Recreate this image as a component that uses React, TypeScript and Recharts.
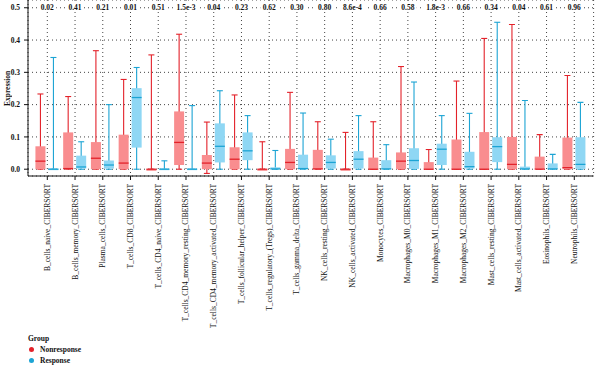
import { ComposedChart, Bar, Line, XAxis, YAxis, CartesianGrid, LabelList } from "recharts";

const categories = [
  "B_cells_naive_CIBERSORT",
  "B_cells_memory_CIBERSORT",
  "Plasma_cells_CIBERSORT",
  "T_cells_CD8_CIBERSORT",
  "T_cells_CD4_naive_CIBERSORT",
  "T_cells_CD4_memory_resting_CIBERSORT",
  "T_cells_CD4_memory_activated_CIBERSORT",
  "T_cells_follicular_helper_CIBERSORT",
  "T_cells_regulatory_(Tregs)_CIBERSORT",
  "T_cells_gamma_delta_CIBERSORT",
  "NK_cells_resting_CIBERSORT",
  "NK_cells_activated_CIBERSORT",
  "Monocytes_CIBERSORT",
  "Macrophages_M0_CIBERSORT",
  "Macrophages_M1_CIBERSORT",
  "Macrophages_M2_CIBERSORT",
  "Mast_cells_resting_CIBERSORT",
  "Mast_cells_activated_CIBERSORT",
  "Eosinophils_CIBERSORT",
  "Neutrophils_CIBERSORT",
];

const pValues = [
  "0.02", "0.41", "0.21", "0.01", "0.51", "1.5e-3", "0.04", "0.23", "0.62", "0.30",
  "0.80", "8.6e-4", "0.66", "0.58", "1.8e-3", "0.66", "0.34", "0.04", "0.61", "0.96",
];

// [min, q1, median, q3, max]
const nonresponse = [
  [0, 0, 0.025, 0.071, 0.233],
  [0, 0, 0.002, 0.114, 0.225],
  [0, 0, 0.034, 0.084, 0.367],
  [0, 0, 0.019, 0.107, 0.278],
  [0, 0, 0, 0, 0.354],
  [0, 0.013, 0.083, 0.179, 0.418],
  [-0.013, 0, 0.019, 0.044, 0.146],
  [0, 0, 0.031, 0.068, 0.23],
  [0, 0, 0, 0, 0.085],
  [0, 0, 0.021, 0.063, 0.238],
  [0, 0, 0.001, 0.06, 0.147],
  [0, 0, 0, 0, 0.114],
  [0, 0, 0, 0.036, 0.147],
  [0, 0, 0.025, 0.052, 0.318],
  [0, 0, 0, 0.022, 0.061],
  [0, 0, 0, 0.092, 0.273],
  [0, 0, 0, 0.115, 0.405],
  [0, 0, 0.015, 0.1, 0.448],
  [0, 0, 0, 0.039, 0.107],
  [0, 0, 0.005, 0.098, 0.29],
];

const response = [
  [0, 0, 0, 0.002, 0.346],
  [0, 0.002, 0.007, 0.042, 0.085],
  [0, 0.002, 0.013, 0.027, 0.2],
  [0, 0.067, 0.222, 0.251, 0.315],
  [0, 0, 0, 0.002, 0.026],
  [0, 0, 0, 0.002, 0.197],
  [0, 0.021, 0.071, 0.142, 0.243],
  [0, 0.028, 0.057, 0.114, 0.166],
  [0, 0, 0.001, 0.006, 0.058],
  [0, 0, 0.002, 0.045, 0.174],
  [0, 0.002, 0.021, 0.043, 0.093],
  [0, 0.002, 0.031, 0.056, 0.166],
  [0, 0, 0.001, 0.028, 0.076],
  [0, 0.001, 0.027, 0.065, 0.27],
  [0, 0.013, 0.062, 0.079, 0.166],
  [0, 0.002, 0.008, 0.054, 0.173],
  [0, 0.022, 0.07, 0.099, 0.455],
  [0, 0, 0.001, 0.008, 0.213],
  [0, 0, 0.001, 0.018, 0.046],
  [0, 0.001, 0.015, 0.099, 0.207],
];

const yTicks = [0, 0.1, 0.2, 0.3, 0.4, 0.5];

const RED = "#e3222a";
const RED_FILL = "#f98d8f";
const BLUE = "#1ca4d4";
const BLUE_FILL = "#8fd7f4";
const FONT = "'Liberation Serif', 'Times New Roman', serif";

const data = categories.map((name, i) => ({
  idx: i,
  name,
  p: pValues[i],
  non: nonresponse[i],
  res: response[i],
  nonRange: [nonresponse[i][0], nonresponse[i][4]],
  resRange: [response[i][0], response[i][4]],
}));
const xTicks = categories.map((_, i) => i);

function makeBox(key: "non" | "res", fill: string, stroke: string) {
  return (props: any) => {
    const { x, y, width, height, payload } = props;
    const [mn, q1, md, q3, mx] = payload[key];
    const span = mx - mn || 1;
    const py = (v: number) => y + (height * (mx - v)) / span;
    const cx = x + width / 2;
    const top = py(q3);
    const boxH = Math.max(py(q1) - top, 1.6);
    return (
      <g>
        <line x1={cx} x2={cx} y1={py(mx)} y2={py(mn)} stroke={stroke} strokeWidth={1.1} />
        <line x1={cx - 3} x2={cx + 3} y1={py(mx)} y2={py(mx)} stroke={stroke} strokeWidth={1.1} />
        <line x1={cx - 3} x2={cx + 3} y1={py(mn)} y2={py(mn)} stroke={stroke} strokeWidth={1.1} />
        <rect x={x} y={top} width={width} height={boxH} fill={fill} />
        <line x1={x} x2={x + width} y1={py(md)} y2={py(md)} stroke={stroke} strokeWidth={1.3} />
      </g>
    );
  };
}

function CategoryTick(props: any) {
  const { x, y, payload } = props;
  return (
    <g transform={`translate(${x} ${y}) rotate(-90)`}>
      <text x={0} y={0} textAnchor="end" dominantBaseline="central" fontSize={7.5} fontFamily={FONT} fill="#111">
        {categories[payload.value]}
      </text>
    </g>
  );
}

function PLabel(props: any) {
  const { x, y, value } = props;
  const w = String(value).length * 3.7 + 3;
  return (
    <g>
      <rect x={x - w / 2} y={y - 4} width={w} height={8} fill="#fff" />
      <text x={x} y={y} textAnchor="middle" dominantBaseline="central" fontSize={7.5} fontWeight="bold" fontFamily={FONT} fill="#111">
        {value}
      </text>
    </g>
  );
}

export default function App() {
  return (
    <div style={{ position: "absolute", left: 0, top: 0, width: 600, height: 365, background: "#fff" }}>
      <ComposedChart width={600} height={365} data={data} margin={{ top: 0, right: 6.4, left: 0, bottom: 0 }} barGap={3}>
        <CartesianGrid strokeDasharray="1 3" stroke="#444" />
        <XAxis
          dataKey="idx"
          type="number"
          domain={[-0.696, 19.696]}
          allowDataOverflow
          ticks={xTicks}
          interval={0}
          height={189}
          tick={<CategoryTick />}
          tickSize={4}
          tickMargin={4}
          axisLine={{ stroke: "#111" }}
          tickLine={{ stroke: "#111" }}
        />
        <YAxis
          width={28}
          domain={[-0.021, 0.524]}
          ticks={yTicks}
          allowDataOverflow
          tickFormatter={(v: number) => v.toFixed(1)}
          tick={{ fontSize: 7.5, fontFamily: FONT, fill: "#111", fontWeight: "bold" }}
          tickSize={4}
          tickMargin={4}
          axisLine={{ stroke: "#111" }}
          tickLine={{ stroke: "#111" }}
        />
        <Bar dataKey="nonRange" barSize={10} shape={makeBox("non", RED_FILL, RED)} isAnimationActive={false} />
        <Bar dataKey="resRange" barSize={10} shape={makeBox("res", BLUE_FILL, BLUE)} isAnimationActive={false} />
        <Line dataKey={() => 0.5} stroke="none" dot={false} activeDot={false} isAnimationActive={false}>
          <LabelList dataKey="p" content={<PLabel />} />
        </Line>
      </ComposedChart>
      <div
        style={{
          position: "absolute",
          left: 3,
          top: 55,
          height: 66,
          width: 10,
          writingMode: "vertical-rl",
          transform: "rotate(180deg)",
          textAlign: "center",
          fontFamily: FONT,
          fontSize: 7.5,
          fontWeight: "bold",
          color: "#111",
          lineHeight: "10px",
        }}
      >
        Expression
      </div>
      <div style={{ position: "absolute", left: 28, top: 333, fontFamily: FONT, fontSize: 7.5, color: "#111", lineHeight: "11px" }}>
        <div style={{ fontWeight: "bold" }}>Group</div>
        <div style={{ display: "flex", alignItems: "center", fontWeight: "bold" }}>
          <svg width={12} height={11}><circle cx={3.5} cy={5.5} r={2.5} fill={RED} /></svg>Nonresponse
        </div>
        <div style={{ display: "flex", alignItems: "center", fontWeight: "bold" }}>
          <svg width={12} height={11}><circle cx={3.5} cy={5.5} r={2.5} fill={BLUE} /></svg>Response
        </div>
      </div>
    </div>
  );
}
